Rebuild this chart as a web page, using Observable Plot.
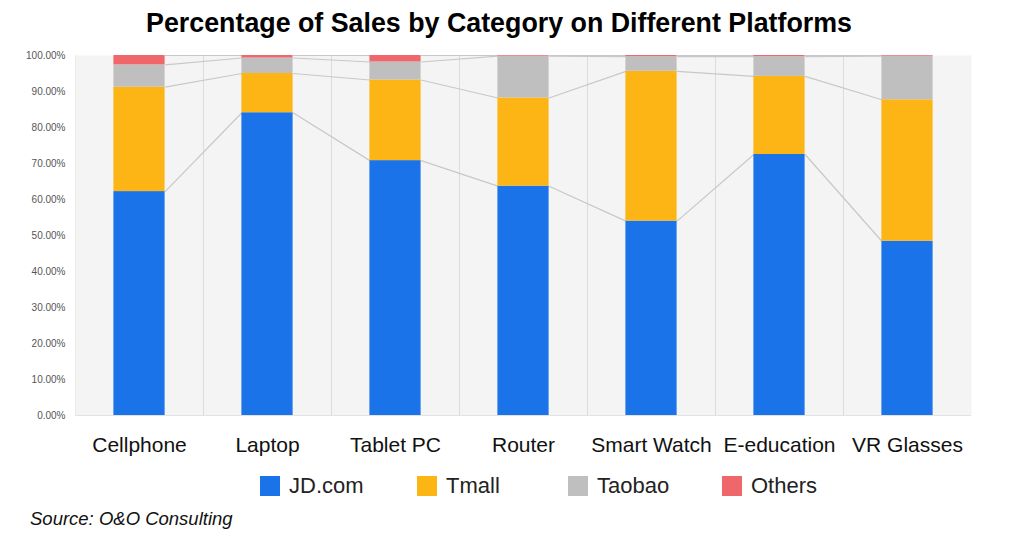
<!DOCTYPE html>
<html>
<head>
<meta charset="utf-8">
<script src="https://cdn.jsdelivr.net/npm/d3@7"></script>
<script src="https://cdn.jsdelivr.net/npm/@observablehq/plot@0.6"></script>
<style>
  html, body { margin: 0; padding: 0; background: #fff; }
  #wrap { position: relative; width: 1024px; height: 543px; font-family: "Liberation Sans", Arial, sans-serif; overflow: hidden; }
  #title { position: absolute; top: 8px; left: 0; width: 998px; text-align: center; font-weight: bold; font-size: 26.8px; color: #000; }
  #chart { position: absolute; top: 45px; left: 0; }
  .leg { position: absolute; top: 473px; display: flex; align-items: center; font-size: 22px; color: #222; }
  .leg span.sw { display: inline-block; width: 20px; height: 20px; margin-right: 9px; }
  #source { position: absolute; left: 30px; top: 508px; font-style: italic; font-size: 18.5px; color: #111; }
</style>
</head>
<body>
<div id="wrap">
  <div id="title">Percentage of Sales by Category on Different Platforms</div>
  <div id="chart"></div>
  <div id="legend"></div>
  <div id="source">Source: O&amp;O Consulting</div>
</div>
<script>
const categories = ["Cellphone", "Laptop", "Tablet PC", "Router", "Smart Watch", "E-education", "VR Glasses"];
const platforms = ["JD.com", "Tmall", "Taobao", "Others"];
const jd     = [62.2, 84.1, 70.8, 63.7, 54.0, 72.5, 48.4];
const tmall  = [29.0, 10.9, 22.4, 24.5, 41.6, 21.7, 39.3];
const taobao = [ 6.2,  4.3,  5.0, 11.6,  4.1,  5.5, 12.1];
const others = [ 2.6,  0.7,  1.8,  0.2,  0.3,  0.3,  0.2];
const colors = ["#1a73e8", "#fdb515", "#bfbfbf", "#f0676b"];
const yTicks = [0, 0.1, 0.2, 0.3, 0.4, 0.5, 0.6, 0.7, 0.8, 0.9, 1.0];

const series = [jd, tmall, taobao, others];
const half = 0.2;

// stacked segments
const segs = [];
const cum = categories.map(() => [0]);
categories.forEach((c, i) => {
  let acc = 0;
  series.forEach((s, k) => {
    const v = s[i] / 100;
    segs.push({i, platform: platforms[k], y1: acc, y2: acc + v});
    acc += v;
    cum[i].push(acc);
  });
});

// connector lines between adjacent bars at each cumulative level
const links = [];
for (let i = 0; i < categories.length - 1; i++) {
  for (let k = 1; k <= series.length; k++) {
    links.push({x1: i + half, y1: cum[i][k], x2: i + 1 - half, y2: cum[i + 1][k]});
  }
}
const separators = categories.slice(1).map((c, i) => i + 0.5);

const chart = Plot.plot({
  width: 1024,
  height: 420,
  marginLeft: 75,
  marginRight: 53,
  marginTop: 10,
  marginBottom: 50,
  style: {fontFamily: "Liberation Sans, Arial, sans-serif", background: "transparent"},
  x: {
    type: "linear",
    domain: [-0.5, categories.length - 0.5],
    ticks: categories.map((c, i) => i),
    tickFormat: i => categories[i],
    tickSize: 0,
    tickPadding: 22,
    label: null
  },
  y: {
    domain: [0, 1],
    ticks: yTicks,
    tickFormat: d3.format(".2%"),
    tickSize: 0,
    tickPadding: 10,
    label: null
  },
  color: {domain: platforms, range: colors},
  marks: [
    Plot.frame({fill: "#f4f4f4", stroke: "none"}),
    Plot.ruleX(separators, {stroke: "#dcdcdc", strokeWidth: 1}),
    Plot.ruleX([-0.5], {stroke: "#ececec", strokeWidth: 1}),
    Plot.ruleY([0], {stroke: "#e2e2e2", strokeWidth: 1}),
    Plot.link(links, {x1: "x1", y1: "y1", x2: "x2", y2: "y2", stroke: "#c8c8c8", strokeWidth: 1.2}),
    Plot.rectY(segs, {x1: d => d.i - half, x2: d => d.i + half, y1: "y1", y2: "y2", fill: "platform"}),
    Plot.axisY({ticks: yTicks, tickFormat: d3.format(".2%"), tickSize: 0, tickPadding: 10, fontSize: 10, fill: "#555", label: null}),
    Plot.axisX({ticks: categories.map((c, i) => i), tickFormat: i => categories[i], tickSize: 0, tickPadding: 22, fontSize: 21, fill: "#111", label: null})
  ]
});
document.getElementById("chart").appendChild(chart);

// legend
const legLefts = [260, 417, 568, 722];
const legend = document.getElementById("legend");
platforms.forEach((p, k) => {
  const d = document.createElement("div");
  d.className = "leg";
  d.style.left = legLefts[k] + "px";
  d.innerHTML = `<span class="sw" style="background:${colors[k]}"></span><span>${p}</span>`;
  legend.appendChild(d);
});
</script>
</body>
</html>
